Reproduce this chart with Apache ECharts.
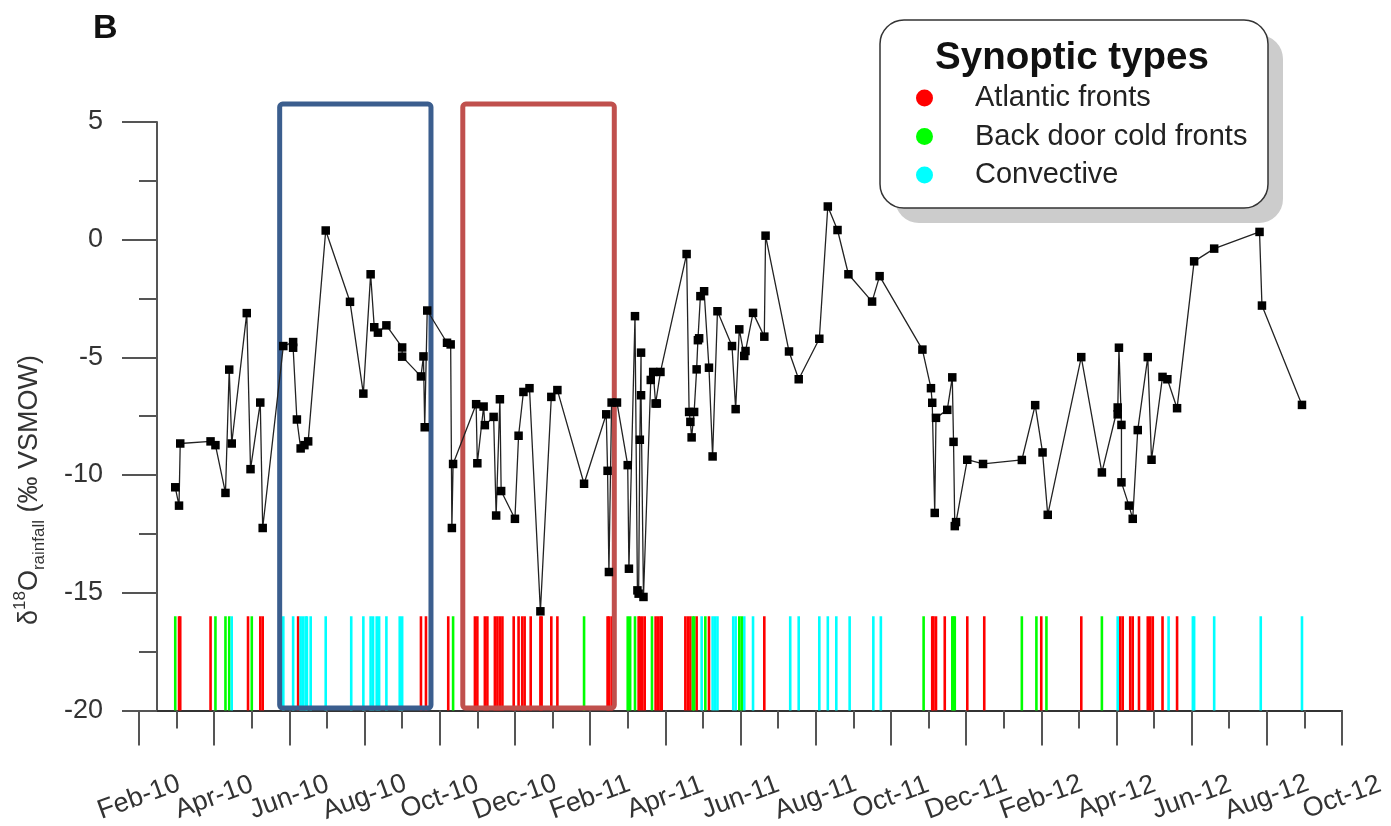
<!DOCTYPE html>
<html>
<head>
<meta charset="utf-8">
<script src="https://cdn.jsdelivr.net/npm/echarts@6/dist/echarts.min.js"></script>
<style>
  html, body { margin: 0; padding: 0; background: #fff; }
  #chart { width: 1391px; height: 826px; }
</style>
</head>
<body>
<div id="chart"></div>
<script>
// ---------------- DATA ----------------
const xTickLabels = ['Feb-10','Apr-10','Jun-10','Aug-10','Oct-10','Dec-10','Feb-11','Apr-11','Jun-11',
  'Aug-11','Oct-11','Dec-11','Feb-12','Apr-12','Jun-12','Aug-12','Oct-12'];

const sampleDates = [
  '2010-02-28','2010-03-03','2010-03-04','2010-03-29','2010-04-02','2010-04-10','2010-04-13','2010-04-15',
  '2010-04-27','2010-04-30','2010-05-08','2010-05-10','2010-05-27','2010-06-04','2010-06-04','2010-06-07',
  '2010-06-10','2010-06-13','2010-06-16','2010-06-30','2010-07-20','2010-07-31','2010-08-06','2010-08-09',
  '2010-08-12','2010-08-19','2010-09-01','2010-09-01','2010-09-16','2010-09-18','2010-09-19','2010-09-21',
  '2010-10-07','2010-10-10','2010-10-11','2010-10-12','2010-10-31','2010-11-01','2010-11-06','2010-11-07',
  '2010-11-14','2010-11-16','2010-11-19','2010-11-20','2010-12-01','2010-12-04','2010-12-08','2010-12-13',
  '2010-12-22','2010-12-31','2011-01-05','2011-01-27','2011-02-13','2011-02-14','2011-02-15','2011-02-17',
  '2011-02-21','2011-03-01','2011-03-02','2011-03-07','2011-03-09','2011-03-10','2011-03-11','2011-03-12',
  '2011-03-12','2011-03-14','2011-03-20','2011-03-22','2011-03-24','2011-03-25','2011-03-28','2011-04-18',
  '2011-04-20','2011-04-21','2011-04-22','2011-04-24','2011-04-26','2011-04-27','2011-04-28','2011-04-29',
  '2011-05-02','2011-05-06','2011-05-09','2011-05-13','2011-05-25','2011-05-28','2011-05-31','2011-06-04',
  '2011-06-05','2011-06-11','2011-06-20','2011-06-21','2011-07-10','2011-07-18','2011-08-04','2011-08-11',
  '2011-08-19','2011-08-28','2011-09-16','2011-09-22','2011-10-27','2011-11-03','2011-11-04','2011-11-06',
  '2011-11-07','2011-11-16','2011-11-20','2011-11-21','2011-11-22','2011-11-23','2011-12-02','2011-12-15',
  '2012-01-16','2012-01-27','2012-02-02','2012-02-06','2012-03-03','2012-03-20','2012-04-02','2012-04-02',
  '2012-04-03','2012-04-05','2012-04-05','2012-04-11','2012-04-14','2012-04-18','2012-04-26','2012-04-29',
  '2012-05-08','2012-05-12','2012-05-20','2012-06-03','2012-06-19','2012-07-26','2012-07-28','2012-08-30'
];
const d18OValues = [
  -10.52,-11.30,-8.66,-8.57,-8.73,-10.76,-5.52,-8.66,
  -3.12,-9.75,-6.92,-12.25,-4.52,-4.35,-4.59,-7.64,
  -8.87,-8.73,-8.57,0.39,-2.64,-6.54,-1.47,-3.72,
  -3.95,-3.64,-4.58,-4.97,-5.81,-4.96,-7.97,-3.01,
  -4.38,-4.45,-12.25,-9.53,-6.99,-9.50,-7.09,-7.88,
  -7.53,-11.72,-6.78,-10.68,-11.86,-8.33,-6.47,-6.31,
  -15.79,-6.68,-6.39,-10.37,-7.42,-9.82,-14.12,-6.92,
  -6.92,-9.58,-13.98,-3.25,-14.90,-15.04,-8.50,-4.80,
  -6.61,-15.18,-5.96,-5.62,-6.96,-6.96,-5.62,-0.61,
  -7.32,-7.74,-8.40,-7.32,-5.51,-4.27,-4.19,-2.40,
  -2.19,-5.44,-9.21,-3.04,-4.52,-7.20,-3.81,-4.94,
  -4.73,-3.11,-4.12,0.17,-4.75,-5.93,-4.21,1.41,
  0.41,-1.47,-2.63,-1.55,-4.67,-6.31,-6.93,-11.61,
  -7.57,-7.23,-5.85,-8.59,-12.17,-12.00,-9.35,-9.53,
  -9.36,-7.03,-9.04,-11.69,-4.99,-9.89,-7.13,-7.42,
  -4.59,-7.87,-10.31,-11.30,-11.86,-8.09,-4.99,-9.35,
  -5.83,-5.93,-7.16,-0.92,-0.38,0.33,-2.80,-7.02
];

const atlanticDates = [
  '2010-03-03','2010-03-04','2010-03-29','2010-04-28','2010-05-08','2010-05-10','2010-06-08','2010-09-16',
  '2010-09-20','2010-10-08','2010-10-30','2010-11-01','2010-11-07','2010-11-09','2010-11-15','2010-11-17',
  '2010-11-19','2010-11-21','2010-11-30','2010-12-04','2010-12-07','2010-12-09','2010-12-14','2010-12-22',
  '2010-12-23','2010-12-31','2011-01-05','2011-02-14','2011-02-15','2011-02-17','2011-03-10','2011-03-11',
  '2011-03-13','2011-03-15','2011-03-24','2011-03-26','2011-03-28','2011-03-29','2011-04-17','2011-04-19',
  '2011-04-21','2011-04-26','2011-05-06','2011-06-20','2011-11-04','2011-11-05','2011-11-07','2011-11-14',
  '2011-12-02','2011-12-16','2012-02-01','2012-03-03','2012-04-04','2012-04-06','2012-04-12','2012-04-14',
  '2012-04-19','2012-04-26','2012-04-28','2012-04-30','2012-05-08','2012-05-20'
];
const backDoorDates = [
  '2010-02-28','2010-04-02','2010-04-10','2010-04-13','2010-05-01','2010-10-12','2011-01-27','2011-03-01',
  '2011-03-03','2011-03-07','2011-03-21','2011-04-23','2011-04-24','2011-05-03','2011-05-31','2011-06-02',
  '2011-10-28','2011-11-20','2011-11-21','2011-11-22','2012-01-16','2012-01-28','2012-02-05','2012-03-20'
];
const convectiveDates = [
  '2010-04-15','2010-05-27','2010-06-04','2010-06-10','2010-06-12','2010-06-14','2010-06-15','2010-06-18',
  '2010-06-30','2010-07-21','2010-07-31','2010-08-06','2010-08-08','2010-08-11','2010-08-13','2010-08-19',
  '2010-08-30','2010-09-01','2011-04-30','2011-05-09','2011-05-11','2011-05-13','2011-05-26','2011-05-28',
  '2011-06-04','2011-06-11','2011-07-11','2011-07-18','2011-08-04','2011-08-11','2011-08-18','2011-08-29',
  '2011-09-17','2011-09-23','2012-04-02','2012-05-13','2012-06-02','2012-06-03','2012-06-19','2012-07-27',
  '2012-08-30'
];

const seriesNames = ['Atlantic fronts', 'Back door cold fronts', 'Convective'];
const eventTop = -16, eventBottom = -20;

// highlighted periods
const boxStarts = ['2010-05-24', '2010-10-20'];
const boxEnds   = ['2010-09-24', '2011-02-19'];
const boxTop = 5.76, boxBottom = -19.9;

// ---------------- HELPERS ----------------
// months since 1 Feb 2010 (fractional)
function toMonth(s) {
  const [y, mo, d] = s.split('-').map(Number);
  const idx = (y - 2010) * 12 + (mo - 2);
  const dim = new Date(Date.UTC(y, mo, 0)).getUTCDate();
  return idx + (d - 1) / dim;
}

const FONT = "'Liberation Sans', Arial, sans-serif";
const lineData = sampleDates.map((d, i) => [toMonth(d), d18OValues[i]]);
const eventColors = ['#ff0000', '#00ff00', '#00ffff'];
const eventSets = [atlanticDates, backDoorDates, convectiveDates];
const boxColors = ['#3b5e8e', '#c0504d'];

function eventSeries(name, dates, color) {
  return {
    name: name,
    type: 'custom',
    coordinateSystem: 'cartesian2d',
    itemStyle: { color: color },
    encode: { x: 0, y: 1 },
    data: dates.map(d => [toMonth(d), eventTop]),
    z: 2,
    silent: true,
    renderItem: function (params, api) {
      const x = api.value(0);
      const p1 = api.coord([x, eventTop]);
      const p2 = api.coord([x, eventBottom]);
      return {
        type: 'line',
        shape: { x1: p1[0], y1: p1[1], x2: p2[0], y2: p2[1] },
        style: { stroke: color, lineWidth: 2.6 }
      };
    }
  };
}

const boxData = boxStarts.map((s, i) => [toMonth(s), toMonth(boxEnds[i]), boxTop, boxBottom, i]);

// x-axis labels split over two overlaid axes (alternate labels) so none is auto-hidden
function xLabelAxis(parity, visibleLine) {
  return {
    type: 'value', min: 0, max: 32, interval: 2, position: 'bottom',
    splitLine: { show: false },
    axisLine: { show: visibleLine, onZero: false, lineStyle: { color: '#333', width: 2 } },
    axisTick: { show: visibleLine, length: 35, lineStyle: { color: '#555', width: 2 } },
    minorTick: { show: visibleLine, splitNumber: 2, length: 18, lineStyle: { color: '#555', width: 2 } },
    minorSplitLine: { show: false },
    axisLabel: {
      rotate: 20, align: 'center', verticalAlign: 'middle', margin: 87,
      fontSize: 27, color: '#333', fontFamily: FONT,
      showMinLabel: true, showMaxLabel: true,
      formatter: v => {
        const i = Math.round(v / 2);
        return (i % 2 === parity) ? (xTickLabels[i] || '') : '';
      }
    }
  };
}

const chart = echarts.init(document.getElementById('chart'), null, { renderer: 'canvas' });

const option = {
  animation: false,
  backgroundColor: '#fff',
  grid: { left: 139, right: 49, top: 122, bottom: 114, containLabel: false },
  xAxis: [xLabelAxis(0, true), xLabelAxis(1, false)],
  yAxis: {
    type: 'value', min: -20, max: 5, interval: 5, offset: -18,
    splitLine: { show: false },
    axisLine: { show: true, onZero: false, lineStyle: { color: '#555', width: 2 } },
    axisTick: { show: true, length: 35, lineStyle: { color: '#555', width: 2 } },
    minorTick: { show: true, splitNumber: 2, length: 18, lineStyle: { color: '#555', width: 2 } },
    minorSplitLine: { show: false },
    axisLabel: { fontSize: 27, color: '#333', margin: 54, fontFamily: FONT }
  },
  legend: {
    data: seriesNames,
    orient: 'vertical',
    left: 916, top: 83,
    padding: 0,
    itemWidth: 17, itemHeight: 17, itemGap: 8.5,
    icon: 'circle',
    z: 5,
    selectedMode: false,
    textStyle: { fontSize: 29, color: '#222', lineHeight: 30, fontFamily: FONT, padding: [0, 0, 0, 37] }
  },
  graphic: [
    {
      type: 'rect', z: 1,
      shape: { x: 895, y: 35, width: 388, height: 188, r: 24 },
      style: { fill: '#cccccc', stroke: 'none' }
    },
    {
      type: 'rect', z: 1,
      shape: { x: 880, y: 20, width: 388, height: 188, r: 24 },
      style: { fill: '#fff', stroke: '#333', lineWidth: 1.5 }
    },
    {
      type: 'text', z: 6, x: 1072, y: 58,
      style: { text: 'Synoptic types', font: "bold 38.5px 'Liberation Sans', Arial, sans-serif", fill: '#111',
               align: 'center', verticalAlign: 'middle' }
    },
    {
      type: 'text', z: 6, left: 93, top: 12,
      style: { text: 'B', font: "bold 34px 'Liberation Sans', Arial, sans-serif", fill: '#111' }
    },
    {
      type: 'text', z: 6, x: 30, y: 490, rotation: Math.PI / 2,
      style: {
        text: '{a|δ}{sup|18}{a|O}{sub|rainfall}{a| (‰ VSMOW)}',
        align: 'center', verticalAlign: 'middle',
        rich: {
          a: { fontSize: 27, lineHeight: 36, fontFamily: FONT, fill: '#333', verticalAlign: 'middle' },
          sup: { fontSize: 17, lineHeight: 17, fontFamily: FONT, fill: '#333', verticalAlign: 'top' },
          sub: { fontSize: 17, lineHeight: 17, fontFamily: FONT, fill: '#333', verticalAlign: 'bottom' }
        }
      }
    }
  ],
  series: [
    eventSeries(seriesNames[0], eventSets[0], eventColors[0]),
    eventSeries(seriesNames[1], eventSets[1], eventColors[1]),
    eventSeries(seriesNames[2], eventSets[2], eventColors[2]),
    {
      name: 'd18O',
      type: 'line',
      data: lineData,
      symbol: 'rect',
      symbolSize: 8.5,
      showSymbol: true,
      itemStyle: { color: '#000' },
      lineStyle: { color: '#222', width: 1.3 },
      z: 4,
      silent: true
    },
    {
      name: 'periods',
      type: 'custom',
      coordinateSystem: 'cartesian2d',
      clip: false,
      encode: { x: [0, 1], y: [2, 3] },
      data: boxData,
      z: 3,
      silent: true,
      renderItem: function (params, api) {
        const p1 = api.coord([api.value(0), api.value(2)]);
        const p2 = api.coord([api.value(1), api.value(3)]);
        return {
          type: 'rect',
          shape: { x: p1[0], y: p1[1], width: p2[0] - p1[0], height: p2[1] - p1[1], r: 3 },
          style: { fill: 'none', stroke: boxColors[api.value(4)], lineWidth: 5 }
        };
      }
    }
  ]
};

chart.setOption(option);
</script>
</body>
</html>
